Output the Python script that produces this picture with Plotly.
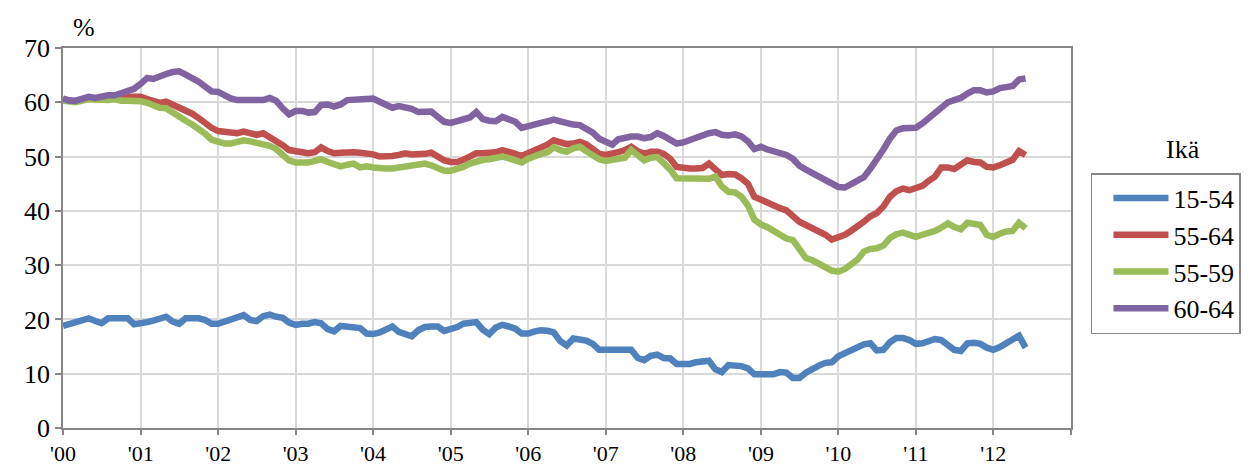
import pandas as pd
import plotly.graph_objects as go

# Monthly values, Jan 2000 - Jun 2012 (%)
s15_54 = [
    18.8, 19.1, 19.5, 19.9, 20.2, 19.7, 19.3, 20.2, 20.2, 20.2, 20.2, 19.1,
    19.2, 19.5, 19.8, 20.1, 20.5, 19.6, 19.2, 20.2, 20.2, 20.2, 19.9, 19.2,
    19.2, 19.6, 20.1, 20.5, 20.8, 19.9, 19.7, 20.6, 20.9, 20.5, 20.3, 19.4,
    19.0, 19.2, 19.2, 19.5, 19.3, 18.2, 17.8, 18.8, 18.7, 18.5, 18.4, 17.4,
    17.3, 17.6, 18.0, 18.7, 17.7, 17.3, 16.9, 18.0, 18.6, 18.7, 18.7, 17.9,
    18.1, 18.6, 19.2, 19.4, 19.5, 18.1, 17.3, 18.5, 19.0, 18.7, 18.3, 17.4,
    17.4, 17.8, 18.0, 17.9, 17.6, 16.0, 15.2, 16.5, 16.4, 16.1, 15.5, 14.4,
    14.4, 14.4, 14.4, 14.4, 14.4, 12.9, 12.5, 13.3, 13.5, 12.9, 12.8, 11.8,
    11.8, 11.8, 12.1, 12.4, 12.4, 10.8, 10.3, 11.6, 11.6, 11.4, 11.0, 9.9,
    9.9, 9.9, 9.9, 10.3, 10.2, 9.2, 9.2, 10.2, 11.0, 11.5, 12.0, 12.1,
    13.2, 13.8, 14.5, 15.0, 15.4, 15.6, 14.3, 14.4, 15.8, 16.6, 16.6, 16.2,
    15.5, 15.6, 16.0, 16.4, 16.2, 15.2, 14.4, 14.2, 15.6, 15.7, 15.5, 14.8,
    14.4, 14.9, 15.6, 16.1, 17.0, 14.8,
]
s55_64 = [
    60.5, 60.2, 60.2, 60.5, 60.8, 60.7, 60.8, 60.9, 60.9, 61.0, 61.0, 61.0,
    61.0, 60.6, 60.2, 59.9, 60.1, 59.6, 58.9, 58.4, 57.9, 57.1, 56.1, 55.3,
    54.7, 54.5, 54.3, 54.3, 54.6, 54.3, 54.0, 54.3, 53.6, 53.0, 52.1, 51.2,
    50.9, 50.7, 50.6, 50.8, 51.7, 51.0, 50.6, 50.7, 50.9, 50.8, 50.7, 50.6,
    50.4, 50.0, 50.0, 50.1, 50.3, 50.6, 50.4, 50.3, 50.5, 50.7, 50.0, 49.3,
    49.0, 49.0, 49.4, 50.0, 50.6, 50.6, 50.6, 50.8, 51.2, 51.0, 50.5, 50.1,
    50.6, 51.2, 51.6, 52.2, 53.0, 52.7, 52.3, 52.4, 52.7, 52.3, 51.4, 50.5,
    50.3, 50.5, 50.8, 51.2, 51.8, 51.0, 50.5, 50.9, 50.9, 50.5, 49.6, 48.1,
    47.8, 47.8, 47.8, 47.9, 48.7, 47.6, 46.6, 46.8, 46.7, 46.0, 45.0, 42.6,
    42.0, 41.6, 41.0, 40.5, 40.1, 39.0, 38.0, 37.4, 36.9, 36.4, 35.6, 34.7,
    35.0, 35.6, 36.3, 37.0, 38.0, 39.0, 39.6, 40.8, 42.6, 43.6, 44.1, 43.8,
    44.3, 44.6, 45.5, 46.3, 48.0, 48.0, 47.7, 48.6, 49.3, 49.0, 48.9, 48.1,
    48.0, 48.4, 48.8, 49.4, 51.0, 50.3,
]
s55_59 = [
    60.3, 60.0, 60.0, 60.3, 60.6, 60.5, 60.4, 60.4, 60.6, 60.3, 60.3, 60.3,
    60.2, 59.9, 59.5, 59.0, 58.9, 58.0, 57.3, 56.6, 55.9, 55.2, 54.2, 53.1,
    52.6, 52.4, 52.4, 52.7, 53.0, 52.8, 52.5, 52.4, 52.0, 51.4, 50.5, 49.3,
    48.9, 48.9, 48.9, 49.2, 49.5, 49.0, 48.5, 48.2, 48.5, 48.7, 48.0, 48.2,
    48.0, 47.8, 47.8, 47.8, 48.0, 48.3, 48.2, 48.5, 48.7, 48.4, 47.9, 47.4,
    47.4, 47.7, 48.1, 48.7, 49.2, 49.4, 49.5, 49.7, 50.0, 49.7, 49.3, 48.9,
    49.6, 50.2, 50.5, 50.8, 51.7, 51.2, 50.9, 51.5, 51.8, 51.0, 50.2, 49.5,
    49.2, 49.5, 49.8, 49.8, 51.2, 50.2, 49.3, 49.8, 49.9, 48.8, 47.6, 46.0,
    46.0, 46.0, 46.0, 46.0, 45.9, 46.3, 44.5, 43.5, 43.4, 42.6, 41.0, 38.4,
    37.5, 37.0, 36.3, 35.8, 34.9, 34.6, 32.7, 31.3, 30.9, 30.3, 29.8, 29.0,
    28.8, 29.3, 30.1, 31.0, 32.5, 33.0, 33.1, 33.6, 35.0, 35.7, 36.0, 35.7,
    35.2, 35.6, 35.9, 36.3, 36.9, 37.7, 37.0, 36.6, 37.8, 37.7, 37.4, 35.6,
    35.2, 35.8, 36.2, 36.3, 37.8, 36.8,
]
s60_64 = [
    60.7, 60.3, 60.3, 60.6, 61.0, 60.8, 61.1, 61.3, 61.3, 61.8, 62.3, 62.5,
    63.4, 64.5, 64.3, 64.6, 65.2, 65.6, 65.7, 65.1, 64.5, 63.8, 62.9, 62.0,
    61.9, 61.2, 60.7, 60.4, 60.4, 60.4, 60.4, 60.4, 60.8, 60.3, 58.9, 57.8,
    58.4, 58.4, 58.1, 58.2, 59.5, 59.6, 59.2, 59.6, 60.4, 60.4, 60.4, 60.6,
    60.7, 60.1, 59.6, 59.0, 59.3, 59.1, 58.8, 58.2, 58.2, 58.3, 57.3, 56.4,
    56.2, 56.6, 57.0, 57.2, 58.2, 56.9, 56.6, 56.5, 57.3, 57.0, 56.4, 55.3,
    55.7, 56.0, 56.2, 56.5, 56.8, 56.5, 56.1, 55.9, 55.8, 55.2, 54.4, 53.3,
    52.8, 52.2, 53.2, 53.5, 53.7, 53.7, 53.4, 53.6, 54.3, 53.8, 53.1, 52.4,
    52.6, 53.1, 53.4, 53.9, 54.3, 54.5, 54.0, 53.9, 54.1, 53.7, 52.8, 51.4,
    51.8, 51.3, 51.0, 50.7, 50.3, 49.6, 48.3, 47.6, 47.0, 46.4, 45.9, 45.3,
    44.4, 44.3, 45.0, 45.6, 46.2, 47.8, 49.4, 51.3, 53.3, 54.8, 55.2, 55.2,
    55.3, 56.1, 57.0, 58.0, 59.0, 60.0, 60.4, 60.8, 61.6, 62.2, 62.2, 61.8,
    62.0, 62.6, 62.8, 63.0, 64.2, 64.4,
]

series_names = ["15-54", "55-64", "55-59", "60-64"]
series_values = [s15_54, s55_64, s55_59, s60_64]
colors = ["#4F81BD", "#C0504D", "#9BBB59", "#8064A2"]

year_ticks = list(range(2000, 2014))
tick_labels = ["'00", "'01", "'02", "'03", "'04", "'05", "'06", "'07",
               "'08", "'09", "'10", "'11", "'12", ""]

months = pd.date_range("2000-01-01", periods=len(s15_54), freq="MS")

FONT = "Liberation Serif"

fig = go.Figure()
for name, vals, col in zip(series_names, series_values, colors):
    fig.add_trace(go.Scatter(
        x=months, y=vals, name=name, mode="lines",
        legendgroup=name,
        line=dict(color=col, width=6.5),
    ))

fig.update_layout(
    width=1252, height=468,
    margin=dict(l=63, r=181, t=48, b=40, autoexpand=False),
    paper_bgcolor="white", plot_bgcolor="white",
    font=dict(family=FONT, size=26, color="black"),
    showlegend=True,
    legend=dict(
        x=1.0198, y=0.671, xanchor="left", yanchor="top",
        bordercolor="#868686", borderwidth=1.5,
        font=dict(family=FONT, size=26, color="black"),
        itemwidth=55, tracegroupgap=3, indentation=16,
        traceorder="normal",
    ),
)

fig.update_xaxes(
    type="date",
    range=["2000-01-01", "2013-01-01"],
    tickvals=[pd.Timestamp(f"{y}-01-01") for y in year_ticks],
    ticktext=tick_labels,
    showgrid=True, gridcolor="#d9d9d9", gridwidth=1.5,
    showline=True, linecolor="#868686", linewidth=1.5, mirror=True,
    ticks="outside", ticklen=5, tickcolor="#868686", tickwidth=1.5,
    tickfont=dict(family=FONT, size=22),
    zeroline=False,
)
fig.update_yaxes(
    range=[0, 70], tickvals=[0, 10, 20, 30, 40, 50, 60, 70],
    showgrid=True, gridcolor="#d9d9d9", gridwidth=1.5,
    showline=True, linecolor="#868686", linewidth=1.5, mirror=True,
    ticks="outside", ticklen=6, tickcolor="#868686", tickwidth=1.5,
    tickfont=dict(family=FONT, size=26),
    zeroline=False,
)

fig.add_annotation(text="%", xref="paper", yref="paper", x=0.021, y=1.053,
                   xanchor="center", yanchor="middle",
                   showarrow=False, font=dict(family=FONT, size=26))
fig.add_annotation(text="Ikä", xref="paper", yref="paper", x=1.111, y=0.734,
                   xanchor="center", yanchor="middle",
                   showarrow=False, font=dict(family=FONT, size=26))

fig.write_html(
    "out.html",
    config={"displayModeBar": False},
    post_script="document.body.style.margin='0';document.body.style.padding='0';",
)
